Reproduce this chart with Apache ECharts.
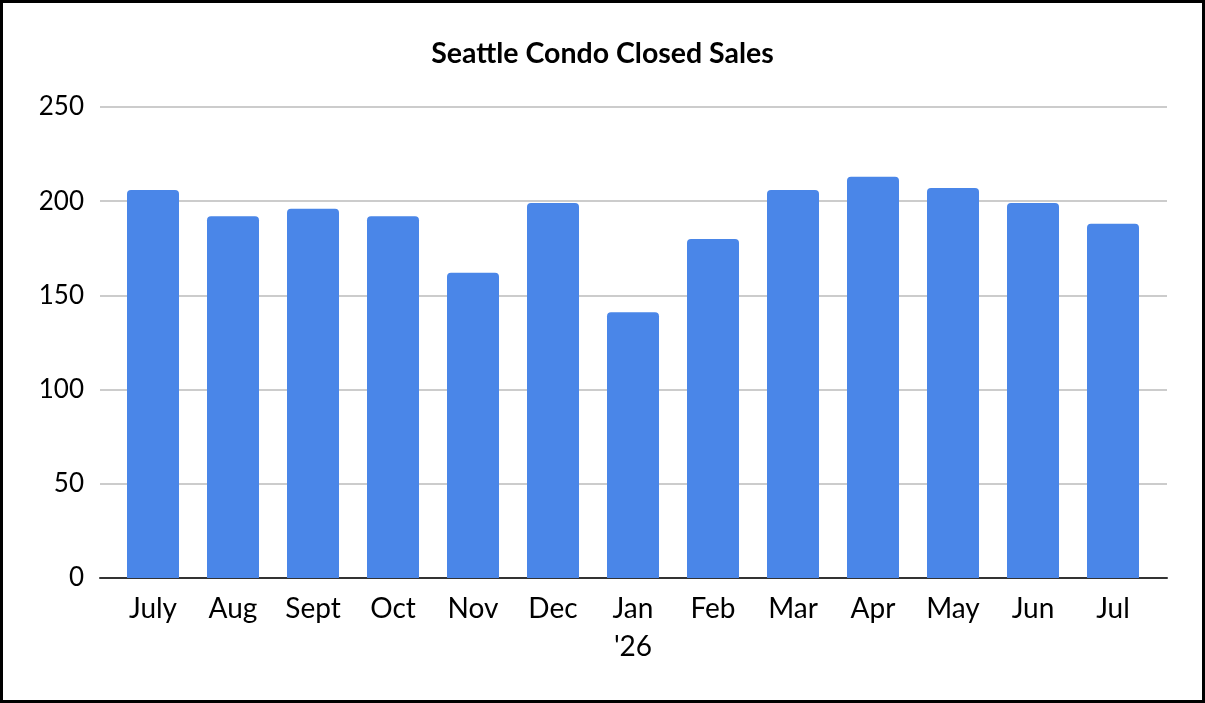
<!DOCTYPE html>
<html>
<head>
<meta charset="utf-8">
<script src="https://cdn.jsdelivr.net/npm/echarts@6/dist/echarts.min.js"></script>
<style>
  html, body { margin: 0; padding: 0; background: #fff; }
  #chart { width: 1205px; height: 703px; box-sizing: border-box; border: 3px solid #000; }
</style>
</head>
<body>
<div id="chart"></div>
<script>
const months = ['July', 'Aug', 'Sept', 'Oct', 'Nov', 'Dec', "Jan\n'26", 'Feb', 'Mar', 'Apr', 'May', 'Jun', 'Jul'];
const closedSales = [206, 192, 196, 192, 162, 199, 141, 180, 206, 213, 207, 199, 188];
const yTicks = { min: 0, max: 250, step: 50 };

const myChart = echarts.init(document.getElementById('chart'));

// grid 0: gridlines + y labels (full width), grid 1: the bars (inset like the original)
const option = {
  animation: false,
  title: {
    text: 'Seattle Condo Closed Sales',
    left: 'center',
    top: 31,
    textStyle: { fontFamily: 'Lato', fontWeight: 'bold', fontSize: 28.5, color: '#000' }
  },
  grid: [
    { left: 97, right: 35, top: 104, bottom: 122 },
    { left: 110, right: 49, top: 104, bottom: 122 }
  ],
  xAxis: [
    {
      gridIndex: 0,
      type: 'value',
      min: 0,
      max: 1,
      axisLine: { onZero: false, lineStyle: { color: '#333', width: 2 } },
      axisTick: { show: false },
      axisLabel: { show: false },
      splitLine: { show: false }
    },
    {
      gridIndex: 1,
      type: 'category',
      data: months,
      axisTick: { show: false },
      axisLine: { show: false },
      axisLabel: {
        color: '#000',
        fontFamily: 'Lato',
        fontSize: 28,
        lineHeight: 38,
        margin: 12,
        interval: 0
      }
    }
  ],
  yAxis: [
    {
      gridIndex: 0,
      type: 'value',
      min: yTicks.min,
      max: yTicks.max,
      interval: yTicks.step,
      axisLine: { show: false },
      axisTick: { show: false },
      splitLine: { lineStyle: { color: '#cccccc', width: 2 } },
      axisLabel: { color: '#000', fontFamily: 'Lato', fontSize: 26, margin: 16 }
    },
    {
      gridIndex: 1,
      type: 'value',
      min: yTicks.min,
      max: yTicks.max,
      interval: yTicks.step,
      axisLine: { show: false },
      axisTick: { show: false },
      splitLine: { show: false },
      axisLabel: { show: false }
    }
  ],
  series: [{
    type: 'bar',
    xAxisIndex: 1,
    yAxisIndex: 1,
    data: closedSales,
    barWidth: '65%',
    itemStyle: { color: '#4a86e8', borderRadius: [4, 4, 0, 0] }
  }]
};

myChart.setOption(option);
</script>
</body>
</html>
